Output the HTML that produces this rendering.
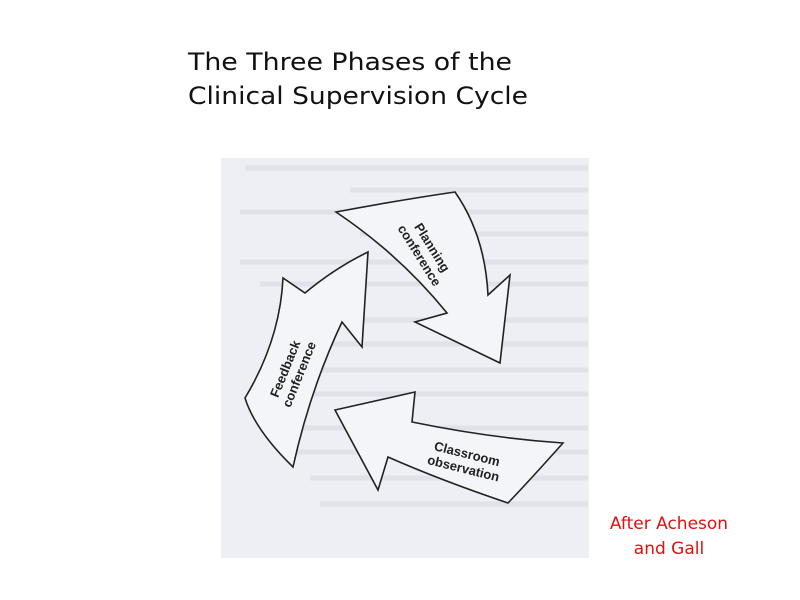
<!DOCTYPE html>
<html><head><style>
html,body{margin:0;padding:0;background:#fff;width:800px;height:600px;overflow:hidden}
</style></head><body>
<svg width="800" height="600" viewBox="0 0 800 600" xmlns="http://www.w3.org/2000/svg">
<rect width="800" height="600" fill="#fff"/>
<g font-family="DejaVu Sans, Verdana, sans-serif" font-size="24" fill="#111">
<text x="188" y="70" textLength="324" lengthAdjust="spacingAndGlyphs">The Three Phases of the</text>
<text x="188" y="104" textLength="340" lengthAdjust="spacingAndGlyphs">Clinical Supervision Cycle</text>
</g>
<rect x="221" y="158" width="368" height="400" fill="#eeeff4"/>
<g stroke="#d8dae2" stroke-width="5" opacity="0.6">
<line x1="245" y1="168" x2="588" y2="168"/>
<line x1="350" y1="190" x2="588" y2="190"/>
<line x1="240" y1="212" x2="588" y2="212"/>
<line x1="360" y1="234" x2="588" y2="234"/>
<line x1="240" y1="262" x2="588" y2="262"/>
<line x1="260" y1="284" x2="588" y2="284"/>
<line x1="300" y1="320" x2="588" y2="320"/>
<line x1="290" y1="344" x2="588" y2="344"/>
<line x1="300" y1="370" x2="588" y2="370"/>
<line x1="300" y1="394" x2="588" y2="394"/>
<line x1="290" y1="428" x2="588" y2="428"/>
<line x1="290" y1="452" x2="588" y2="452"/>
<line x1="310" y1="478" x2="588" y2="478"/>
<line x1="320" y1="504" x2="588" y2="504"/>
</g>
<g fill="#f4f5f8" stroke="#222" stroke-width="1.6" stroke-linejoin="miter">
<path d="M336,212 Q400,200 455,192 Q485,235 488,295 L510,275 L500,363 L415,322 L447,313 Q400,255 336,212 Z"/>
<path d="M293,467 Q255,430 245,398 Q280,340 283,278 L305,293 Q335,268 368,252 L362,347 L342,322 Q310,390 293,467 Z"/>
<path d="M335,410 L415,392 L412,422 Q490,438 563,443 Q530,480 508,503 Q440,480 388,457 L378,490 Z"/>
</g>
<g font-family="Liberation Sans, Arial, sans-serif" font-size="13" font-weight="bold" fill="#222" text-anchor="middle">
<g transform="translate(425,252) rotate(58)"><text x="0" y="-4">Planning</text><text x="0" y="11">conference</text></g>
<g transform="translate(293,372) rotate(-68)"><text x="0" y="-4">Feedback</text><text x="0" y="11">conference</text></g>
<g transform="translate(465,462) rotate(14)"><text x="0" y="-4">Classroom</text><text x="0" y="11">observation</text></g>
</g>
<g font-family="DejaVu Sans, Verdana, sans-serif" font-size="17" fill="#e01010" text-anchor="middle">
<text x="669" y="529">After Acheson</text>
<text x="669" y="554">and Gall</text>
</g>
</svg>
</body></html>
